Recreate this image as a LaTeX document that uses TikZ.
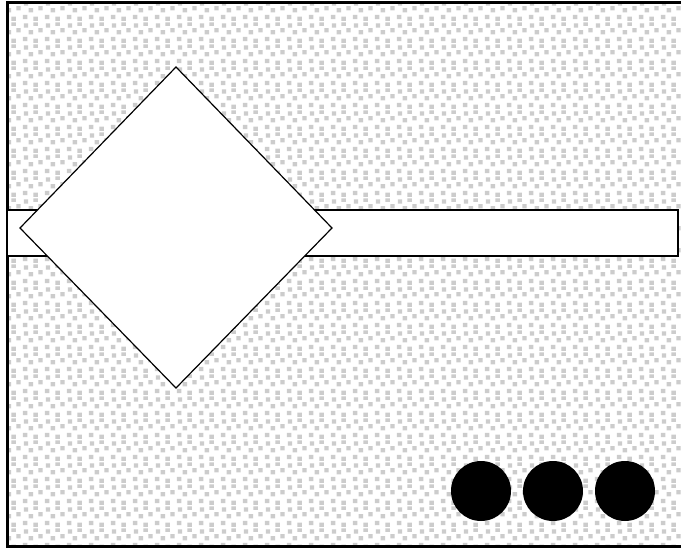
\documentclass[tikz,border=0pt]{standalone}
\usetikzlibrary{patterns}
\pgfdeclarepatternformonly{stip}{\pgfpointorigin}{\pgfpoint{22pt}{22pt}}{\pgfpoint{22pt}{22pt}}{%
  \pgfpathrectangle{\pgfpoint{1pt}{2pt}}{\pgfpoint{4.5pt}{4.5pt}}%
  \pgfpathrectangle{\pgfpoint{12pt}{0pt}}{\pgfpoint{4.5pt}{4.5pt}}%
  \pgfpathrectangle{\pgfpoint{7pt}{9pt}}{\pgfpoint{4.5pt}{4.5pt}}%
  \pgfpathrectangle{\pgfpoint{17pt}{11pt}}{\pgfpoint{4.5pt}{4.5pt}}%
  \pgfpathrectangle{\pgfpoint{2pt}{16pt}}{\pgfpoint{4.5pt}{4.5pt}}%
  \pgfpathrectangle{\pgfpoint{12pt}{18pt}}{\pgfpoint{4.5pt}{3.5pt}}%
  \pgfusepath{fill}}
\tikzset{
  shapeline/.style={draw=black, line width=1.4pt, fill=white, line join=miter},
  dot/.style={fill=black}
}
\begin{document}
\begin{tikzpicture}[x=1pt,y=-1pt]
\useasboundingbox (0,0) rectangle (681,549);
\fill[white] (0,0) rectangle (681,549);
\fill[pattern=stip, pattern color=black!20] (7,2) rectangle (682,547);
\draw[line width=2.2pt] (682,2.5) -- (7.5,2.5) -- (7.5,546.5) -- (682,546.5);
\draw[shapeline] (7.5,210) rectangle (678,256);
\draw[shapeline, line width=1.2pt] (176,67) -- (332,228) -- (176,388) -- (20,228) -- cycle;
\fill[dot] (481,491) circle (30);
\fill[dot] (553,491) circle (30);
\fill[dot] (625,491) circle (30);
\end{tikzpicture}
\end{document}
